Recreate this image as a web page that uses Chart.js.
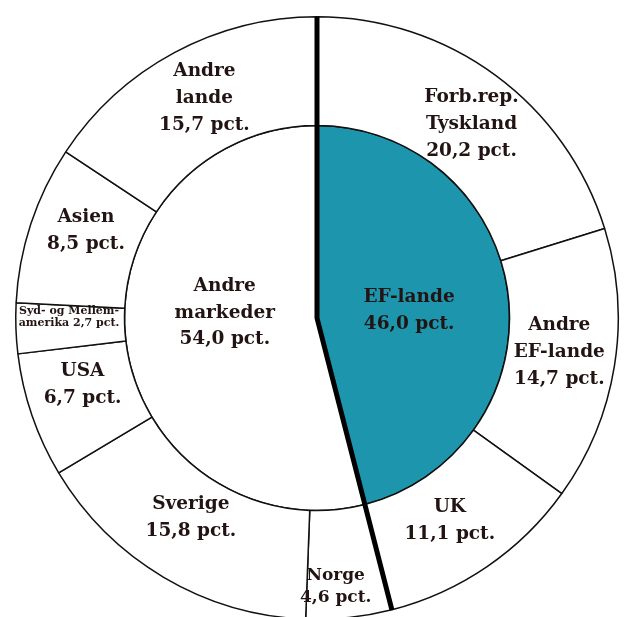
<!DOCTYPE html>
<html>
<head>
<meta charset="utf-8">
<script src="https://cdn.jsdelivr.net/npm/chart.js@4/dist/chart.umd.min.js"></script>
<style>
  html, body { margin: 0; padding: 0; background: #ffffff; overflow: hidden; }
  #wrap { position: absolute; left: 0; top: 0; width: 625px; height: 640px; }
</style>
</head>
<body>
<div id="wrap"><canvas id="chart"></canvas></div>
<script>
// ===== DATA =====
// Outer ring: single markets (clockwise from 12 o'clock)
const outerNames = [
    ['Forb.rep.', 'Tyskland'],
    ['Andre', 'EF-lande'],
    ['UK'],
    ['Norge'],
    ['Sverige'],
    ['USA'],
    ['Syd- og Mellem-'],
    ['Asien'],
    ['Andre', 'lande']
];
const outerValues = [20.2, 14.7, 11.1, 4.6, 15.8, 6.7, 2.7, 8.5, 15.7];

// Inner pie: market groups
const innerNames = [['EF-lande'], ['Andre', 'markeder']];
const innerValues = [46.0, 54.0];

// ===== STYLE =====
const TEAL = '#1c95ad';
const INK = '#231414';
const FONT = '"DejaVu Serif", "Liberation Serif", serif';

const pct = v => v.toFixed(1).replace('.', ',') + ' pct.';

// label placement inside each slice: af = fraction along the arc, rf = fraction across the ring
const outerPlace = [
    { af: 0.53, rf: 0.51 },
    { af: 0.48, rf: 0.48 },
    { af: 0.53, rf: 0.46 },
    { af: 0.63, rf: 0.71, size: 17, lh: 22 },
    { af: 0.53, rf: 0.40 },
    { af: 0.63, rf: 0.47 },
    { af: 0.72, rf: 0.51, size: 11, lh: 12.5, inline: 'amerika' },
    { af: 0.58, rf: 0.50 },
    { af: 0.52, rf: 0.50 }
];
const innerPlace = [
    { af: 0.517, rf: 0.48 },
    { af: 0.553, rf: 0.48 }
];

function buildLines(names, value, place) {
    if (place.inline) {
        // small slice: value shares a line with the last word
        return [...names, place.inline + ' ' + pct(value)];
    }
    return [...names, pct(value)];
}

const labelPlugin = {
    id: 'sliceLabels',
    afterDatasetsDraw(chart) {
        const ctx = chart.ctx;
        const outerMeta = chart.getDatasetMeta(0);
        const innerMeta = chart.getDatasetMeta(1);

        // thick divider lines between EF and the rest
        const ef = innerMeta.data[0].getProps(['x', 'y', 'startAngle', 'endAngle'], true);
        const rOuter = outerMeta.data[0].getProps(['outerRadius'], true).outerRadius;
        ctx.save();
        ctx.strokeStyle = '#000000';
        ctx.lineWidth = 5;
        ctx.lineCap = 'butt';
        ctx.lineJoin = 'miter';
        ctx.beginPath();
        ctx.moveTo(ef.x + rOuter * Math.cos(ef.startAngle), ef.y + rOuter * Math.sin(ef.startAngle));
        ctx.lineTo(ef.x, ef.y);
        ctx.lineTo(ef.x + rOuter * Math.cos(ef.endAngle), ef.y + rOuter * Math.sin(ef.endAngle));
        ctx.stroke();
        ctx.restore();

        const drawSet = (meta, names, values, places, defSize, defLh) => {
            meta.data.forEach((arc, i) => {
                const p = arc.getProps(['x', 'y', 'startAngle', 'endAngle', 'innerRadius', 'outerRadius'], true);
                const pl = places[i];
                const a = p.startAngle + pl.af * (p.endAngle - p.startAngle);
                const r = p.innerRadius + pl.rf * (p.outerRadius - p.innerRadius);
                const cx = p.x + r * Math.cos(a);
                const cy = p.y + r * Math.sin(a);
                const size = pl.size || defSize;
                const lh = pl.lh || defLh;
                const lines = buildLines(names[i], values[i], pl);
                ctx.save();
                ctx.fillStyle = INK;
                ctx.font = 'bold ' + size + 'px ' + FONT;
                ctx.textAlign = 'center';
                ctx.textBaseline = 'middle';
                const top = cy - (lines.length - 1) * lh / 2;
                lines.forEach((t, k) => ctx.fillText(t, cx, top + k * lh));
                ctx.restore();
            });
        };
        drawSet(outerMeta, outerNames, outerValues, outerPlace, 18.5, 27);
        drawSet(innerMeta, innerNames, innerValues, innerPlace, 18.5, 26.5);
    }
};

new Chart(document.getElementById('chart'), {
    type: 'doughnut',
    data: {
        datasets: [
            {
                data: outerValues,
                backgroundColor: '#ffffff',
                borderColor: '#111111',
                borderWidth: 1.5,
                weight: 109
            },
            {
                data: innerValues,
                backgroundColor: [TEAL, '#ffffff'],
                borderColor: '#111111',
                borderWidth: 1.5,
                weight: 193
            }
        ]
    },
    options: {
        responsive: true,
        maintainAspectRatio: false,
        animation: false,
        cutout: 0,
        layout: { padding: { left: 15, right: 6, top: 16, bottom: 20 } },
        plugins: {
            legend: { display: false },
            tooltip: { enabled: false }
        }
    },
    plugins: [labelPlugin]
});
</script>
</body>
</html>
